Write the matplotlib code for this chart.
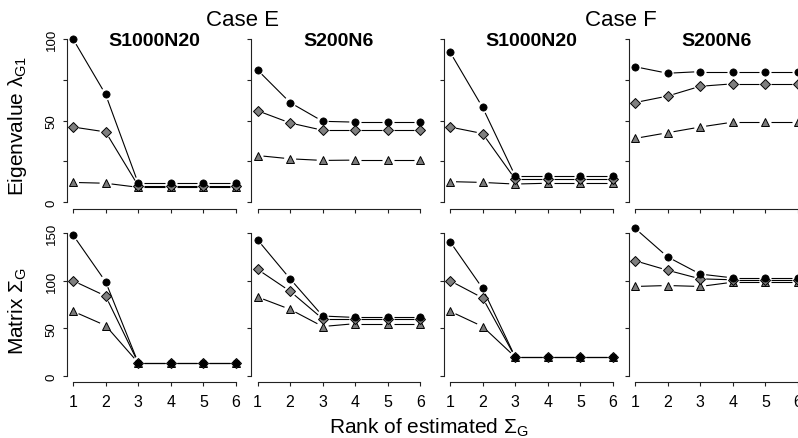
import numpy as np
import matplotlib.pyplot as plt

plt.rcParams['font.family'] = ['Liberation Sans', 'DejaVu Sans']
plt.rcParams['mathtext.fontset'] = 'custom'
plt.rcParams['mathtext.rm'] = 'Liberation Sans'
plt.rcParams['mathtext.it'] = 'Liberation Sans'
plt.rcParams['mathtext.bf'] = 'Liberation Sans:bold'

# data
rank = [1, 2, 3, 4, 5, 6]
cases = ['Case E', 'Case F']
designs = ['S1000N20', 'S200N6', 'S1000N20', 'S200N6']

# top row: eigenvalue lambda_G1
eig_e1000_dot = [100, 66, 11.5, 11.5, 11.5, 11.5]
eig_e1000_dia = [46, 43, 10, 10, 10, 10]
eig_e1000_tri = [12, 11.5, 9, 9, 9, 9]
eig_e200_dot = [81, 61, 49.5, 49, 49, 49]
eig_e200_dia = [56, 48.5, 44, 44, 44, 44]
eig_e200_tri = [28.5, 26.5, 25.5, 25.7, 25.7, 25.7]
eig_f1000_dot = [92, 58, 16, 16, 16, 16]
eig_f1000_dia = [46, 42, 14, 14, 14, 14]
eig_f1000_tri = [12.5, 12, 11, 11.5, 11.5, 11.5]
eig_f200_dot = [83, 79, 80, 80, 80, 80]
eig_f200_dia = [61, 65, 71, 72.5, 72.5, 72.5]
eig_f200_tri = [39, 42.5, 46, 49, 49, 49]

# bottom row: matrix Sigma_G
mat_e1000_dot = [148, 99, 14, 14, 14, 14]
mat_e1000_dia = [100, 84, 14, 14, 14, 14]
mat_e1000_tri = [68, 53, 14, 14, 14, 14]
mat_e200_dot = [143, 102, 63, 61.5, 61.5, 61.5]
mat_e200_dia = [112, 89, 60, 60, 60, 60]
mat_e200_tri = [83, 70, 52, 55, 55, 55]
mat_f1000_dot = [141, 92, 20, 20, 20, 20]
mat_f1000_dia = [100, 82, 20, 20, 20, 20]
mat_f1000_tri = [68, 52, 20, 20, 20, 20]
mat_f200_dot = [155, 125, 107, 103, 103, 103]
mat_f200_dia = [121, 111, 102, 101, 101, 101]
mat_f200_tri = [94, 95, 94, 98.5, 98.5, 98.5]

top_row = [
    (eig_e1000_dot, eig_e1000_dia, eig_e1000_tri),
    (eig_e200_dot, eig_e200_dia, eig_e200_tri),
    (eig_f1000_dot, eig_f1000_dia, eig_f1000_tri),
    (eig_f200_dot, eig_f200_dia, eig_f200_tri),
]
bottom_row = [
    (mat_e1000_dot, mat_e1000_dia, mat_e1000_tri),
    (mat_e200_dot, mat_e200_dia, mat_e200_tri),
    (mat_f1000_dot, mat_f1000_dia, mat_f1000_tri),
    (mat_f200_dot, mat_f200_dia, mat_f200_tri),
]

W, H = 798, 439
fig = plt.figure(figsize=(W / 100, H / 100), dpi=100)


def px_axes(left, top, w, h):
    return fig.add_axes([left / W, 1 - (top + h) / H, w / W, h / H])


def gap_line(ax, x, y, gap=6.0):
    # R type="b": line segments stop short of the points
    pts = ax.transData.transform(np.column_stack([x, y]))
    inv = ax.transData.inverted()
    for p, q in zip(pts[:-1], pts[1:]):
        d = q - p
        L = np.hypot(*d)
        if L <= 2 * gap:
            continue
        u = d / L
        seg = inv.transform(np.array([p + u * gap, q - u * gap]))
        ax.plot(seg[:, 0], seg[:, 1], color='black', lw=0.8,
                solid_capstyle='butt', clip_on=False, zorder=2)


lefts = [66.5, 251, 443.5, 628.5]
rows = [
    dict(top=33.5, h=176, ylim=(-4, 104), ticks=[0, 25, 50, 75, 100],
         labels=['0', '', '50', '', '100'], bounds=(0, 100), data=top_row,
         ylabel=r'Eigenvalue $\lambda_{\mathrm{G1}}$', ylab_y=126),
    dict(top=223.4, h=159.6, ylim=(-6.2, 161.2), ticks=[0, 50, 100, 150],
         labels=['0', '50', '100', '150'], bounds=(0, 150), data=bottom_row,
         ylabel=r'Matrix $\Sigma_{\mathrm{G}}$', ylab_y=311),
]

styles = [
    dict(marker='^', ms=6, mfc='#7a7a7a', mec='black', mew=0.7),
    dict(marker='D', ms=4.8, mfc='#7f7f7f', mec='black', mew=0.7),
    dict(marker='o', ms=5.2, mfc='black', mec='black', mew=0.5),
]

for r, row in enumerate(rows):
    for c, left in enumerate(lefts):
        ax = px_axes(left, row['top'], 176, row['h'])
        ax.set_xlim(0.8, 6.2)
        ax.set_ylim(*row['ylim'])
        ax.patch.set_visible(False)
        for s in ['top', 'right']:
            ax.spines[s].set_visible(False)
        for s in ['left', 'bottom']:
            ax.spines[s].set_linewidth(0.8)
            ax.spines[s].set_color('#222222')
        ax.spines['left'].set_bounds(*row['bounds'])
        ax.spines['bottom'].set_bounds(1, 6)
        ax.set_xticks(rank)
        ax.set_yticks(row['ticks'])
        ax.set_yticklabels(row['labels'])
        ax.tick_params(direction='out', length=3, width=0.8, color='#222222')
        ax.tick_params(axis='x', labelsize=11.5, pad=5.5,
                       labelbottom=(r == 1))
        ax.tick_params(axis='y', labelsize=9.5, pad=3.5, labelrotation=90,
                       labelleft=(c == 0))
        for lab in ax.get_yticklabels():
            lab.set_va('center')

        dot, dia, tri = row['data'][c]
        for series, st in zip((tri, dia, dot), styles):
            gap_line(ax, rank, series)
        for z, (series, st) in enumerate(zip((tri, dia, dot), styles)):
            ax.plot(rank, series, ls='none', clip_on=False, zorder=3 + z, **st)

        if r == 0:
            ax.text(0.5, (176 - 7.5) / 176, designs[c], transform=ax.transAxes,
                    ha='center', va='center', fontsize=14, fontweight='bold')

    fig.text(18 / W, 1 - row['ylab_y'] / H, row['ylabel'], rotation=90,
             ha='center', va='center', fontsize=15)

fig.text(242.5 / W, 1 - 20 / H, cases[0], ha='center', va='center', fontsize=16)
fig.text(620.5 / W, 1 - 21 / H, cases[1], ha='center', va='center', fontsize=16)
fig.text(429 / W, 1 - 434 / H, r'Rank of estimated $\Sigma_{\mathrm{G}}$',
         ha='center', va='baseline', fontsize=15)

fig.savefig('out.png', dpi=100)
